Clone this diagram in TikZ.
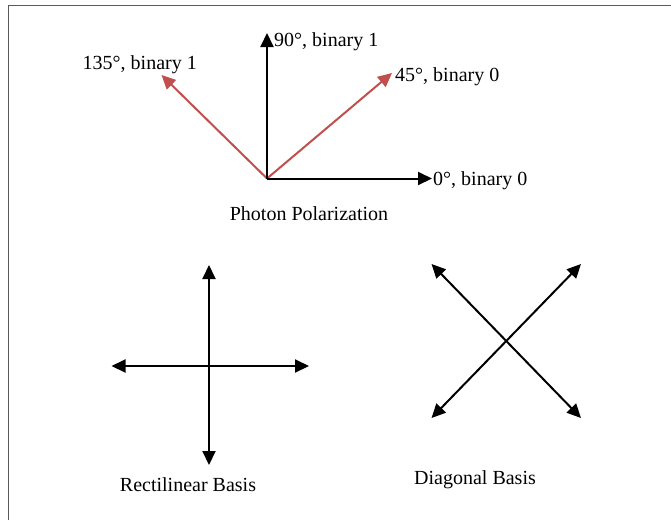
\documentclass[tikz,border=0pt]{standalone}
\usepackage{fontspec}
\setmainfont{Liberation Serif}
\usetikzlibrary{arrows.meta}
\definecolor{redarrow}{RGB}{192,80,77}
\definecolor{framegray}{RGB}{90,90,90}
\begin{document}
\begin{tikzpicture}[x=1pt,y=-1pt,
  vec/.style={line width=2pt,-{Triangle[length=14pt,width=13pt]}},
  dvec/.style={line width=2pt,{Triangle[length=14pt,width=13pt]}-{Triangle[length=14pt,width=13pt]}},
  lbl/.style={font=\fontsize{20}{24}\selectfont,inner sep=0pt}]
\useasboundingbox (0,0) rectangle (671,520);
\fill[white] (0,0) rectangle (671,520);
% frame (continues beyond the picture at right and bottom)
\draw[framegray,line width=1pt] (8,520) -- (8,5) -- (671,5);
% photon polarization
\coordinate (O) at (267,178.5);
\coordinate (t0) at (432,178.5);
\coordinate (t90) at (267,33);
\coordinate (t45) at (392,73);
\coordinate (t135) at (161.5,75);
\draw[vec,redarrow] (O) -- (t135);
\draw[vec,redarrow] (O) -- (t45);
\draw[vec] (O) -- (t90);
\draw[vec] (O) -- (t0);
\node[lbl,anchor=base west] (l90) at (274,46.5) {90°, binary 1};
\node[lbl,anchor=base west] (l45) at (395,81.5) {45°, binary 0};
\node[lbl,anchor=base west] (l0) at (433,185.5) {0°, binary 0};
\node[lbl,anchor=base east] (l135) at (197,69.5) {135°, binary 1};
\node[lbl,anchor=base] (lpp) at (309,220) {Photon Polarization};
% rectilinear basis
\coordinate (rT) at (209,265);
\coordinate (rB) at (209,465);
\coordinate (rL) at (111.5,366);
\coordinate (rR) at (309,366);
\draw[dvec] (rT) -- (rB);
\draw[dvec] (rL) -- (rR);
\node[lbl,anchor=base] (lrb) at (188,491) {Rectilinear Basis};
% diagonal basis
\coordinate (dTL) at (431.5,264);
\coordinate (dTR) at (581,264);
\coordinate (dBL) at (431.5,418);
\coordinate (dBR) at (581,418);
\draw[dvec] (dTL) -- (dBR);
\draw[dvec] (dBL) -- (dTR);
\node[lbl,anchor=base] (ldb) at (475,484) {Diagonal Basis};
\end{tikzpicture}
\end{document}
